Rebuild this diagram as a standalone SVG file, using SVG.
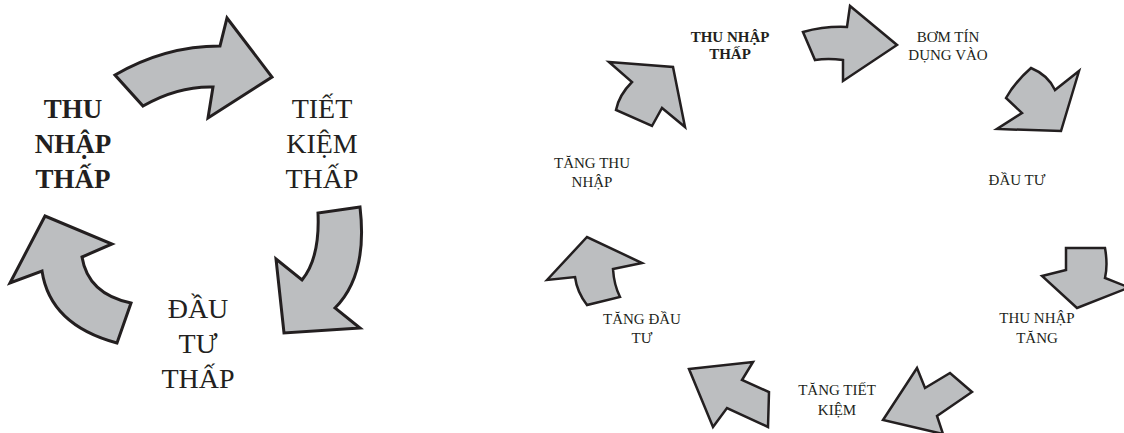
<svg xmlns="http://www.w3.org/2000/svg" width="1124" height="433" viewBox="0 0 1124 433">
<style>
.arr{fill:#bcbec0;stroke:#231f20;stroke-linejoin:miter;stroke-miterlimit:10}
.big{stroke-width:3}
.sm{stroke-width:2.5}
text{font-family:"Liberation Serif","Times New Roman",serif;fill:#231f20;text-anchor:middle}
.l{font-size:28px}
.lb{font-size:27px;font-weight:bold}
.s{font-size:15px}
.sb{font-size:15px;font-weight:bold}
</style>
<rect width="1124" height="433" fill="#ffffff"/>
<g id="connectors">
  <path class="arr big" d="M115,75 Q165,46 220,46 L227,18 L272,77 L208,118 L213,87 Q178,86 143,106 Z"/>
  <path class="arr big" d="M360,207 L318,213 Q320,258 302,280 L276,259 L284,333 L360,328 L335,308 Q368,275 360,207 Z"/>
  <path class="arr big" d="M10,283 L45,216 L112,244 L82,257 Q88,294 131,303 L117,343 Q50,325 42,271 Z"/>
  <path class="arr sm" d="M609,62 L673,67 L685,127 L662,108 L652,126 L616,110 Q619,95 632,82 Z"/>
  <path class="arr sm" d="M803,32 Q825,26 847,27 L850,6 L897,45 L843,81 L843,60 Q828,58 815,60 Z"/>
  <path class="arr sm" d="M1031,68 Q1048,75 1055,90 L1079,71 L1061,131 L997,129 L1022,113 L1006,98 Q1015,82 1031,68 Z"/>
  <path class="arr sm" d="M1042,276 L1066,270 L1066,248 L1105,248 Q1108,265 1105,278 L1129,287.5 L1077,308 Z"/>
  <path class="arr sm" d="M917,368 L925,388 L950,373 L972,392 L937,416 L943,434 L883,420 Z"/>
  <path class="arr sm" d="M689,369 L753,362 L742,380 L769,392 L768,427 L727,408 L713,427 Z"/>
  <path class="arr sm" d="M547,280 L587,237 L642,263 L613,269 Q614,285 620,297 L587,305 Q577,292 575,277 Z"/>
</g>
<g id="node-thu-nhap-thap-left">
  <text class="lb" x="73" y="118">THU</text>
  <text class="lb" x="73" y="153">NHẬP</text>
  <text class="lb" x="73" y="188">THẤP</text>
</g>
<g id="node-tiet-kiem-thap">
  <text class="l" x="322" y="118">TIẾT</text>
  <text class="l" x="322" y="153">KIỆM</text>
  <text class="l" x="322" y="188">THẤP</text>
</g>
<g id="node-dau-tu-thap">
  <text class="l" x="198" y="318">ĐẦU</text>
  <text class="l" x="198" y="353">TƯ</text>
  <text class="l" x="198" y="388">THẤP</text>
</g>
<g id="node-thu-nhap-thap-right">
  <text class="sb" x="730" y="42">THU NHẬP</text>
  <text class="sb" x="730" y="59">THẤP</text>
</g>
<g id="node-bom-tin-dung">
  <text class="s" x="948" y="42">BƠM TÍN</text>
  <text class="s" x="948" y="60">DỤNG VÀO</text>
</g>
<g id="node-dau-tu">
  <text class="s" x="1017" y="185">ĐẦU TƯ</text>
</g>
<g id="node-thu-nhap-tang">
  <text class="s" x="1037" y="323">THU NHẬP</text>
  <text class="s" x="1037" y="343">TĂNG</text>
</g>
<g id="node-tang-tiet-kiem">
  <text class="s" x="837" y="395">TĂNG TIẾT</text>
  <text class="s" x="837" y="415">KIỆM</text>
</g>
<g id="node-tang-dau-tu">
  <text class="s" x="642" y="324">TĂNG ĐẦU</text>
  <text class="s" x="642" y="343">TƯ</text>
</g>
<g id="node-tang-thu-nhap">
  <text class="s" x="592" y="168">TĂNG THU</text>
  <text class="s" x="592" y="187">NHẬP</text>
</g>
</svg>
